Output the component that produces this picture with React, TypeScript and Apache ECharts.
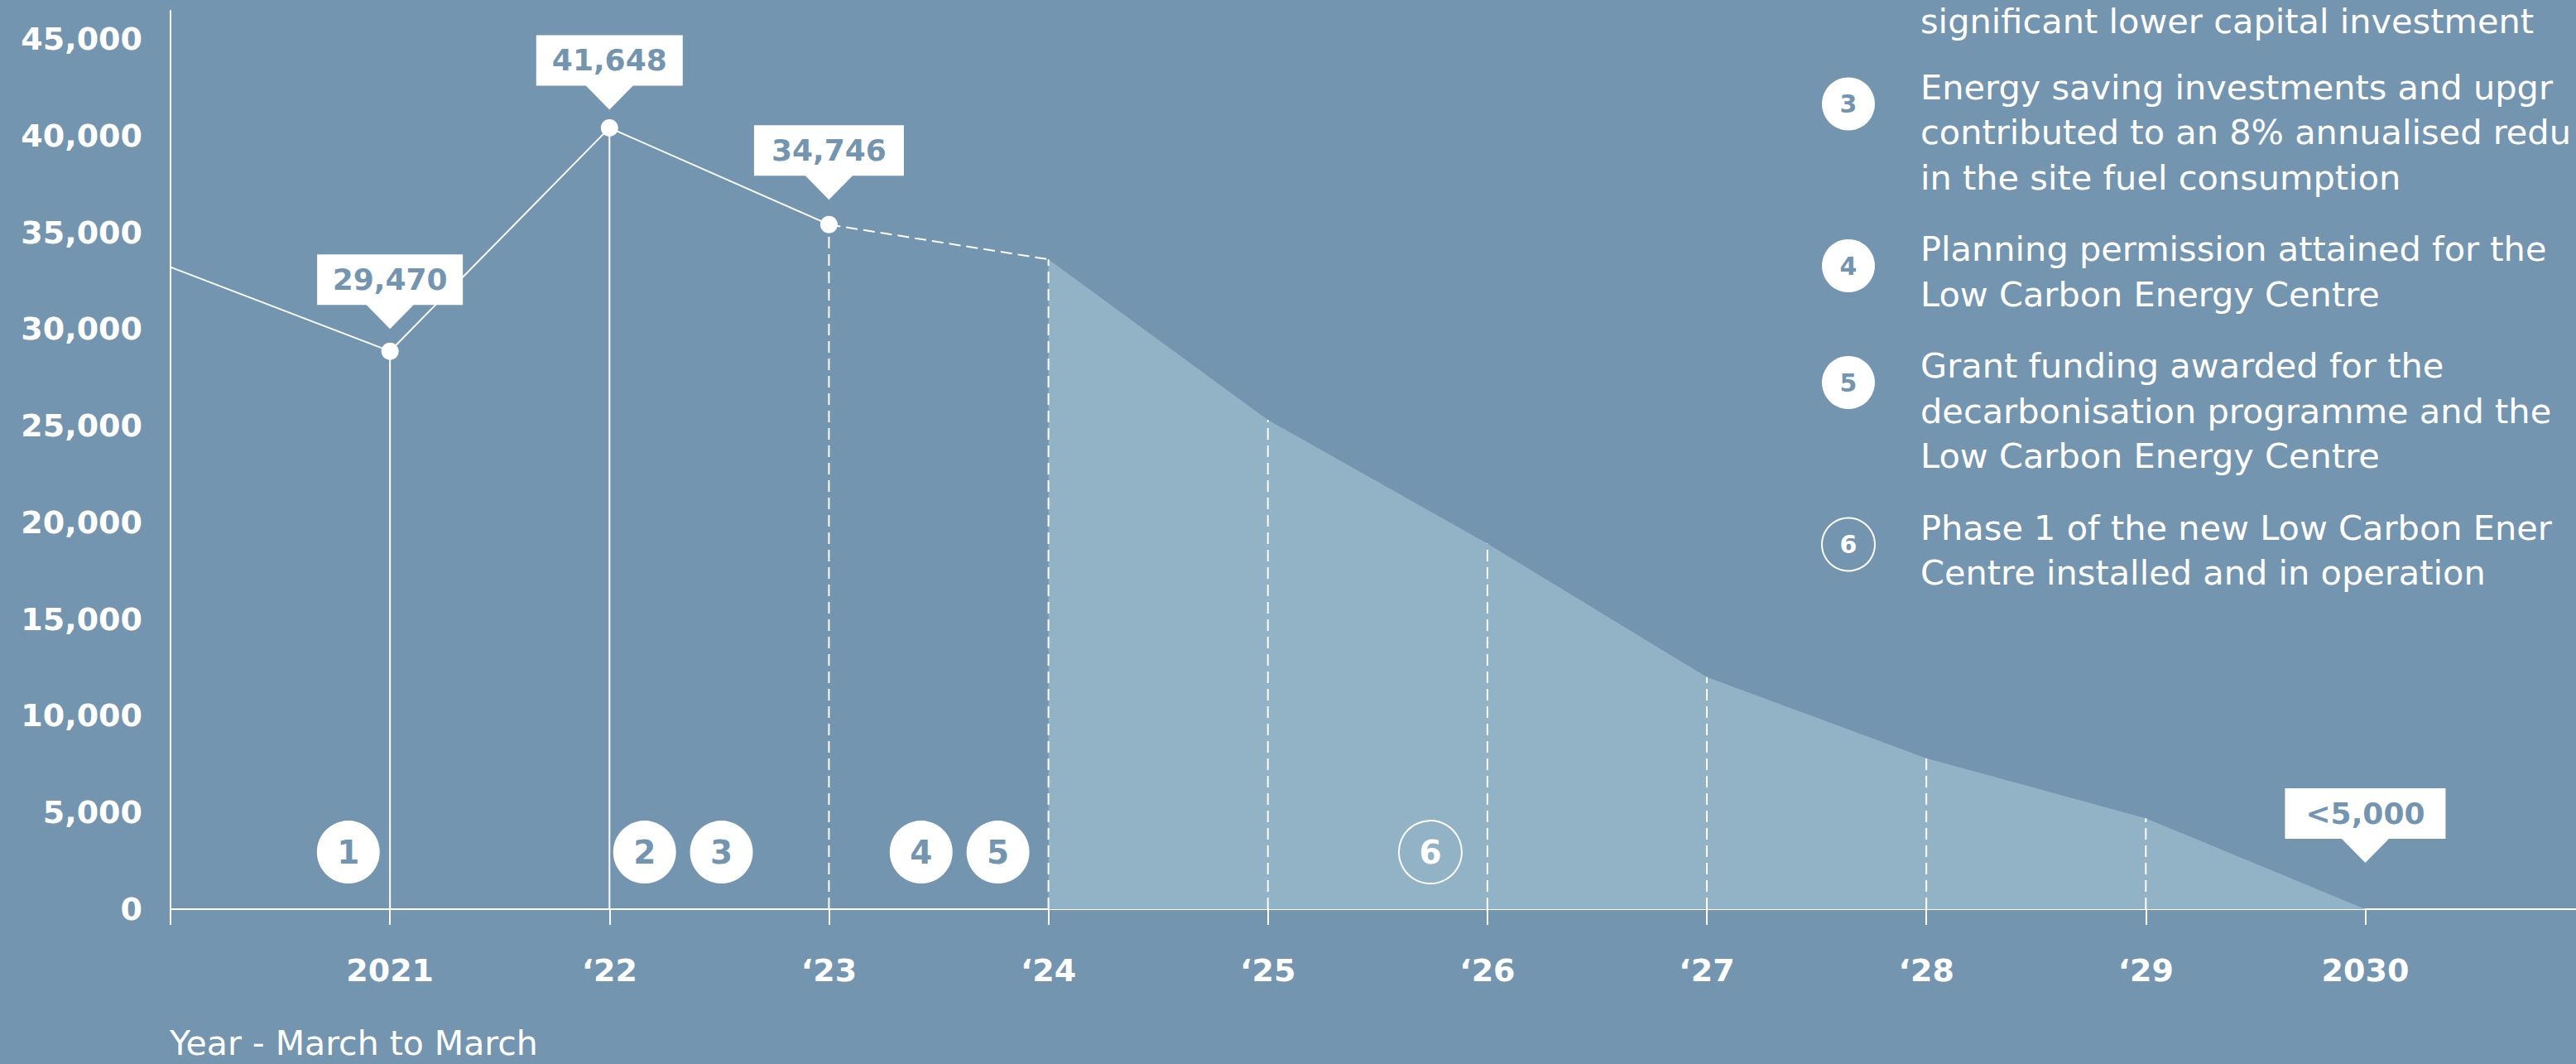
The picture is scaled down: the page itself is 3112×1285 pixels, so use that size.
import React, { useEffect, useRef } from 'react';
import * as echarts from 'echarts';

// ---------- data ----------
const tickYears = [2020, 2021, 2022, 2023, 2024, 2025, 2026, 2027, 2028, 2029, 2030];
const labelYears = [2021, 2022, 2023, 2024, 2025, 2026, 2027, 2028, 2029, 2030];
const yearLabels = ['2021', '\u201822', '\u201823', '\u201824', '\u201825', '\u201826', '\u201827', '\u201828', '\u201829', '2030'];

const actualYears = [2020, 2021, 2022, 2023];
const actualValues = [33200, 28850, 40400, 35400];

const bridgeYears = [2023, 2024];
const bridgeValues = [35400, 33600];

const targetYears = [2024, 2025, 2026, 2027, 2028, 2029, 2030];
const targetValues = [33600, 25300, 18900, 12000, 7800, 4700, 0];

const solidDropYears = [2021, 2022];
const dashedDropYears = [2023, 2024, 2025, 2026, 2027, 2028, 2029];

const calloutYears = [2021, 2022, 2023, 2030];
const calloutTexts = ['29,470', '41,648', '34,746', '<5,000'];

const milestoneYears = [2020.81, 2022.16, 2022.51, 2023.42, 2023.77, 2025.74];
const milestoneLabels = ['1', '2', '3', '4', '5', '6'];
const milestoneValue = 2950;

// legend notes, as far as they are visible in the source picture
const legendNumbers = ['', '3', '4', '5', '6'];
const legendTexts = [
  ['significant lower capital investment'],
  ['Energy saving investments and upgr', 'contributed to an 8% annualised redu', 'in the site fuel consumption'],
  ['Planning permission attained for the', 'Low Carbon Energy Centre'],
  ['Grant funding awarded for the', 'decarbonisation programme and the', 'Low Carbon Energy Centre'],
  ['Phase 1 of the new Low Carbon Ener', 'Centre installed and in operation'],
];

const axisTitle = 'Year - March to March';

// ---------- styles / layout ----------
const W = 3112;
const H = 1285;
const BG = '#7395B0';
const AREA = '#92B2C6';
const WHITE = '#FFFFFF';
const FONT = '"DejaVu Sans", "Noto Sans", sans-serif';
const X_MIN = 2020;
const X_MAX = 2030.96;
const Y_MAX = 46455;
const GRID = { left: 206, right: 0, top: 13, bottom: 187 };
const DASH = [14, 7];
const calloutGaps = [27, 22, 30, 56];
const calloutWidths = [176, 177, 181, 194];

function valueAt(year: number): number {
  const ia = actualYears.indexOf(year);
  if (ia >= 0) return actualValues[ia];
  const it = targetYears.indexOf(year);
  if (it >= 0) return targetValues[it];
  return 0;
}

function calloutPath(w: number): string {
  const h = 61, t = 29, b = 28.5, c = w / 2;
  return `path://M0,0L${w},0L${w},${h}L${c + b},${h}L${c},${h + t}L${c - b},${h}L0,${h}Z`;
}

function buildLegendGraphics(): any[] {
  const els: any[] = [];
  const textX = 2320;
  const circleX = 2233;
  const lineGap = 54.5;
  const paraGap = 86.5;
  const fs = 41.5;
  let baseline = 40;
  legendTexts.forEach((lines, i) => {
    if (i > 0) baseline += paraGap - (i === 1 ? 7 : 0);
    const num = legendNumbers[i];
    if (num) {
      const hollow = num === '6';
      els.push({
        type: 'circle',
        shape: { cx: circleX, cy: baseline + 6, r: 32 },
        style: hollow ? { fill: 'none', stroke: WHITE, lineWidth: 2 } : { fill: WHITE },
        z: 10,
      });
      els.push({
        type: 'text',
        x: circleX,
        y: baseline + 6,
        style: {
          text: num,
          fill: hollow ? WHITE : BG,
          font: `bold 30px ${FONT}`,
          align: 'center',
          verticalAlign: 'middle',
        },
        z: 11,
      });
    }
    lines.forEach((ln, j) => {
      if (j > 0) baseline += lineGap;
      els.push({
        type: 'text',
        x: textX,
        y: baseline - 0.346 * fs,
        style: {
          text: ln,
          fill: WHITE,
          font: `${fs}px ${FONT}`,
          lineHeight: 42,
          align: 'left',
          verticalAlign: 'middle',
        },
        z: 10,
      });
    });
  });
  els.push({
    type: 'text',
    x: 205,
    y: 1274 - 0.346 * 41,
    style: {
      text: axisTitle,
      fill: WHITE,
      font: `41px ${FONT}`,
      lineHeight: 41,
      align: 'left',
      verticalAlign: 'middle',
    },
    z: 10,
  });
  return els;
}

function buildOption(): any {
  const dropSeries: any[] = [];
  solidDropYears.forEach((yr) => {
    dropSeries.push({
      type: 'line',
      name: 'drop-' + yr,
      data: [[yr, 0], [yr, valueAt(yr)]],
      symbol: 'none',
      silent: true,
      lineStyle: { color: WHITE, width: 2, type: 'solid' },
      z: 3,
    });
  });
  dashedDropYears.forEach((yr) => {
    dropSeries.push({
      type: 'line',
      name: 'drop-' + yr,
      data: [[yr, 0], [yr, valueAt(yr)]],
      symbol: 'none',
      silent: true,
      lineStyle: { color: WHITE, width: 2, type: DASH },
      z: 3,
    });
  });

  return {
    animation: false,
    backgroundColor: BG,
    textStyle: { fontFamily: FONT },
    grid: { ...GRID, containLabel: false, outerBoundsMode: 'none' },
    xAxis: {
      type: 'value',
      min: X_MIN,
      max: X_MAX,
      interval: 1,
      axisLine: { show: true, onZero: true, lineStyle: { color: WHITE, width: 2 } },
      axisTick: {
        show: true,
        customValues: tickYears,
        length: 19,
        lineStyle: { color: WHITE, width: 2 },
      },
      axisLabel: {
        show: true,
        customValues: labelYears,
        formatter: (v: number) => {
          const i = labelYears.indexOf(Math.round(v));
          return i >= 0 ? yearLabels[i] : '';
        },
        color: WHITE,
        fontFamily: FONT,
        fontWeight: 'bold',
        fontSize: 38,
        lineHeight: 38,
        margin: 55,
      },
      splitLine: { show: false },
    },
    yAxis: {
      type: 'value',
      min: 0,
      max: Y_MAX,
      interval: 5000,
      axisLine: { show: true, lineStyle: { color: WHITE, width: 2 } },
      axisTick: { show: false },
      axisLabel: {
        show: true,
        showMaxLabel: false,
        formatter: (v: number) => v.toLocaleString('en-US'),
        color: WHITE,
        fontFamily: FONT,
        fontWeight: 'bold',
        fontSize: 38,
        margin: 34,
      },
      splitLine: { show: false },
    },
    graphic: { elements: buildLegendGraphics() },
    series: [
      {
        type: 'line',
        name: 'Target pathway',
        data: targetYears.map((y, i) => [y, targetValues[i]]),
        symbol: 'none',
        silent: true,
        lineStyle: { width: 0, color: AREA },
        areaStyle: { color: AREA, opacity: 1 },
        z: 1,
      },
      ...dropSeries,
      {
        type: 'line',
        name: 'Bridge',
        data: bridgeYears.map((y, i) => [y, bridgeValues[i]]),
        symbol: 'none',
        silent: true,
        lineStyle: { color: WHITE, width: 2, type: DASH },
        z: 4,
      },
      {
        type: 'line',
        name: 'Actual',
        data: actualYears.map((y, i) =>
          i === 0 ? { value: [y, actualValues[i]], symbol: 'none' } : { value: [y, actualValues[i]] }
        ),
        symbol: 'circle',
        symbolSize: 21,
        showAllSymbol: true,
        silent: true,
        itemStyle: { color: WHITE, opacity: 1 },
        lineStyle: { color: WHITE, width: 2 },
        z: 5,
      },
      {
        type: 'scatter',
        name: 'Milestones',
        silent: true,
        symbol: 'circle',
        symbolSize: 76,
        z: 6,
        itemStyle: { opacity: 1 },
        data: milestoneYears.map((yr, i) => {
          const hollow = milestoneLabels[i] === '6';
          return {
            value: [yr, milestoneValue],
            itemStyle: hollow
              ? { color: 'rgba(0,0,0,0)', borderColor: WHITE, borderWidth: 2, opacity: 1 }
              : { color: WHITE, opacity: 1 },
            label: {
              show: true,
              position: 'inside',
              formatter: milestoneLabels[i],
              color: hollow ? WHITE : BG,
              fontFamily: FONT,
              fontWeight: 'bold',
              fontSize: 39,
            },
          };
        }),
      },
      {
        type: 'scatter',
        name: 'Callouts',
        silent: true,
        z: 7,
        itemStyle: { opacity: 1 },
        data: calloutYears.map((yr, i) => ({
          value: [yr, valueAt(yr)],
          symbol: calloutPath(calloutWidths[i]),
          symbolSize: [calloutWidths[i], 90],
          symbolOffset: [0, -(45 + calloutGaps[i])],
          itemStyle: { color: WHITE, opacity: 1 },
          label: {
            show: true,
            position: 'inside',
            offset: [0, -14.5],
            formatter: calloutTexts[i],
            color: BG,
            fontFamily: FONT,
            fontWeight: 'bold',
            fontSize: 36,
          },
        })),
      },
    ],
  };
}

export default function App() {
  const ref = useRef<HTMLDivElement>(null);
  useEffect(() => {
    document.body.style.margin = '0';
    document.body.style.background = BG;
    if (!ref.current) return;
    const chart = echarts.init(ref.current, undefined, { renderer: 'svg', width: W, height: H });
    chart.setOption(buildOption());
    return () => chart.dispose();
  }, []);
  return (
    <div
      ref={ref}
      style={{ position: 'fixed', left: 0, top: 0, width: W, height: H, overflow: 'hidden', background: BG }}
    />
  );
}
